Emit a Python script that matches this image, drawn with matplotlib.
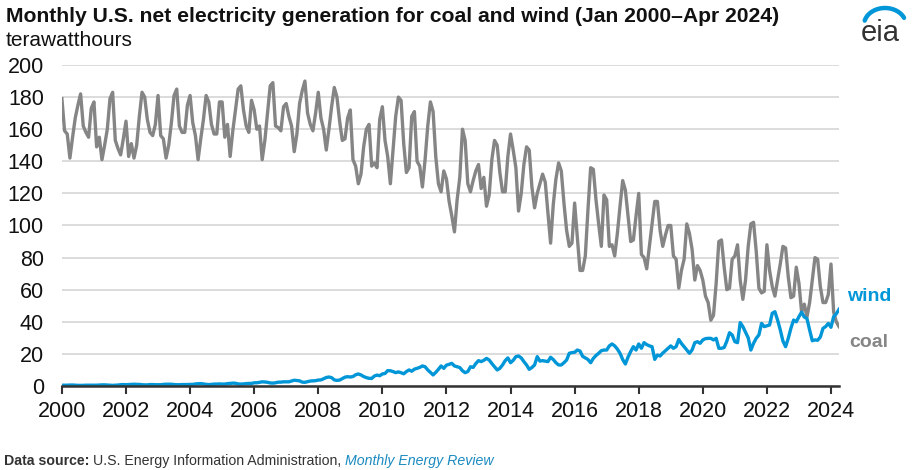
import numpy as np
import matplotlib
matplotlib.use("Agg")
import matplotlib.pyplot as plt

plt.rcParams['font.family'] = ['Liberation Sans', 'DejaVu Sans']

# monthly net generation, terawatthours, Jan 2000 - Apr 2024 (one row per year)
coal_twh = [
    179, 159, 157, 142, 155, 167, 175, 182, 162, 158, 155, 173,  # 2000
    177, 149, 155, 141, 150, 160, 179, 183, 153, 148, 144, 154,  # 2001
    165, 143, 151, 142, 150, 168, 183, 180, 166, 158, 156, 163,  # 2002
    181, 156, 154, 142, 150, 164, 181, 185, 162, 158, 158, 175,  # 2003
    181, 164, 156, 141, 154, 166, 181, 177, 163, 157, 157, 177,  # 2004
    177, 155, 163, 143, 159, 172, 185, 187, 172, 162, 158, 178,  # 2005
    172, 160, 162, 141, 153, 170, 187, 189, 162, 161, 159, 174,  # 2006
    176, 168, 162, 146, 157, 176, 184, 190, 170, 163, 159, 170,  # 2007
    183, 167, 160, 147, 160, 174, 186, 180, 165, 153, 154, 167,  # 2008
    172, 141, 137, 126, 132, 149, 160, 163, 137, 139, 136, 166,  # 2009
    174, 153, 143, 126, 147, 168, 180, 178, 151, 133, 136, 168,  # 2010
    171, 140, 137, 124, 141, 162, 177, 171, 143, 126, 121, 134,  # 2011
    129, 115, 106, 96, 116, 130, 160, 153, 126, 121, 128, 134,   # 2012
    138, 123, 130, 112, 119, 141, 153, 150, 133, 121, 121, 143,  # 2013
    157, 147, 136, 109, 120, 138, 149, 147, 124, 111, 120, 126,  # 2014
    132, 127, 108, 89, 113, 129, 139, 134, 114, 97, 87, 89,      # 2015
    114, 93, 72, 72, 81, 110, 136, 135, 116, 101, 87, 119,       # 2016
    116, 87, 88, 81, 95, 112, 128, 122, 106, 90, 91, 106,        # 2017
    120, 82, 80, 73, 87, 101, 115, 115, 97, 87, 94, 100,         # 2018
    100, 81, 79, 61, 72, 79, 101, 95, 85, 66, 75, 72,            # 2019
    66, 56, 52, 41, 44, 64, 90, 91, 74, 60, 61, 79,              # 2020
    81, 88, 66, 54, 66, 87, 101, 102, 84, 61, 58, 59,            # 2021
    88, 72, 62, 56, 66, 76, 87, 86, 68, 55, 56, 74,              # 2022
    64, 46, 51, 43, 52, 66, 80, 79, 62, 52, 52, 57,              # 2023
    76, 46, 40, 37,                                              # 2024
]

wind_twh = [
    0.5, 0.5, 0.5, 0.6, 0.6, 0.5, 0.4, 0.4, 0.4, 0.5, 0.5, 0.5,          # 2000
    0.5, 0.5, 0.6, 0.7, 0.7, 0.6, 0.5, 0.4, 0.5, 0.6, 0.8, 0.9,          # 2001
    0.8, 0.9, 1.0, 1.1, 1.0, 1.0, 0.8, 0.7, 0.7, 0.9, 0.9, 0.8,          # 2002
    0.8, 0.8, 1.0, 1.1, 1.1, 1.1, 0.9, 0.8, 0.8, 0.9, 0.9, 0.9,          # 2003
    1.0, 1.0, 1.3, 1.4, 1.5, 1.3, 1.0, 0.9, 1.0, 1.2, 1.2, 1.3,          # 2004
    1.2, 1.2, 1.5, 1.6, 1.8, 1.7, 1.3, 1.2, 1.3, 1.5, 1.6, 1.6,          # 2005
    2.0, 2.0, 2.3, 2.6, 2.5, 2.3, 1.9, 1.8, 2.0, 2.4, 2.4, 2.6,          # 2006
    2.6, 2.6, 3.1, 3.6, 3.4, 3.2, 2.4, 2.3, 2.7, 3.1, 3.2, 3.3,          # 2007
    3.7, 3.8, 4.5, 5.3, 5.6, 5.2, 3.8, 3.5, 3.7, 4.6, 5.5, 5.8,          # 2008
    5.6, 5.9, 7.0, 7.5, 6.9, 5.9, 5.2, 4.8, 4.7, 6.2, 6.8, 6.4,          # 2009
    7.5, 7.8, 9.6, 9.5, 9.0, 8.3, 8.8, 8.3, 7.6, 9.0, 10.0, 9.2,         # 2010
    10.5, 11.0, 11.6, 12.5, 12.0, 10.0, 8.5, 6.9, 8.5, 10.4, 12.5, 11.0, # 2011
    13.0, 13.5, 14.1, 12.5, 12.0, 11.5, 9.5, 8.3, 9.0, 12.0, 11.6, 14.0, # 2012
    15.8, 15.2, 16.0, 17.2, 16.2, 14.0, 12.0, 10.0, 11.0, 13.1, 15.8, 17.5,  # 2013
    14.5, 16.0, 18.3, 18.7, 17.5, 15.2, 13.1, 10.4, 11.5, 13.1, 18.3, 15.5,  # 2014
    15.8, 15.5, 15.2, 17.9, 16.5, 14.5, 13.1, 13.1, 14.5, 16.2, 20.4, 20.8,  # 2015
    21.0, 22.4, 21.8, 18.5, 17.5, 16.5, 14.5, 17.2, 19.0, 20.4, 22.0, 22.4,  # 2016
    22.4, 25.0, 26.2, 25.0, 23.0, 20.4, 16.5, 13.7, 18.0, 21.5, 24.5, 22.4,  # 2017
    26.2, 23.5, 27.0, 25.8, 25.0, 24.5, 16.6, 19.3, 18.7, 20.5, 22.0, 23.5,  # 2018
    25.0, 23.5, 24.5, 29.0, 26.5, 24.5, 22.4, 20.4, 22.5, 27.0, 27.6, 26.6,  # 2019
    28.7, 29.5, 29.7, 29.7, 28.7, 29.7, 23.5, 23.5, 24.0, 28.0, 33.2, 31.8,  # 2020
    27.6, 27.0, 39.5, 37.0, 33.5, 30.0, 22.4, 26.6, 29.7, 31.8, 39.0, 37.0,  # 2021
    37.5, 38.0, 45.3, 46.3, 41.1, 35.0, 28.0, 24.5, 29.7, 36.0, 41.1, 40.0,  # 2022
    43.2, 46.0, 43.0, 42.0, 34.9, 28.2, 28.7, 28.5, 30.5, 35.9, 37.0, 39.0,  # 2023
    36.6, 43.2, 45.0, 47.8,                                                   # 2024
]

start_year = 2000
year_ticks = list(range(2000, 2025, 2))
y_ticks = list(range(0, 201, 20))

COAL = "#858585"
WIND = "#0096d7"

months = np.arange(len(coal_twh))
x = start_year + months / 12.0

fig = plt.figure(figsize=(9.16, 4.70), dpi=100)
ax = fig.add_axes([61.9 / 916, 84 / 470, (839 - 61.9) / 916, 321 / 470])

ax.plot(x, coal_twh, color=COAL, lw=2.4, solid_joinstyle="round", zorder=3)
ax.plot(x, wind_twh, color=WIND, lw=2.4, solid_joinstyle="round", zorder=4)

ax.set_xlim(x[0], x[-1])
ax.set_ylim(0, 200)
ax.set_yticks(y_ticks)
ax.set_xticks(year_ticks)
ax.set_xticklabels([str(y) for y in year_ticks])
ax.grid(axis="y", color="#d9d9d9", lw=1.3)
ax.set_axisbelow(True)
for s in ["top", "right", "left"]:
    ax.spines[s].set_visible(False)
ax.spines["bottom"].set_color("#333333")
ax.spines["bottom"].set_linewidth(1.8)
ax.spines["bottom"].set_zorder(5)
ax.tick_params(axis="y", length=0, pad=13, labelsize=15.5, labelcolor="#111111")
ax.tick_params(axis="x", length=6, width=1.5, color="#333333", pad=5,
               labelsize=15.5, labelcolor="#111111")

# series labels at the right end
ax.text(2025.18, 55.5, "wind", color=WIND, fontsize=14, fontweight="bold",
        ha="center", va="center", clip_on=False)
ax.text(2025.18, 27.4, "coal", color=COAL, fontsize=14, fontweight="bold",
        ha="center", va="center", clip_on=False)

fig.text(6 / 916, 1 - 17 / 470,
         "Monthly U.S. net electricity generation for coal and wind (Jan 2000\u2013Apr 2024)",
         fontsize=15.2, fontweight="bold", ha="left", va="center", color="#111111")
fig.text(6 / 916, 1 - 40 / 470, "terawatthours", fontsize=15, ha="left",
         va="center", color="#111111")

# source line, pieces placed one after another
renderer = fig.canvas.get_renderer()
sx = 4 / 916
sy = 1 - 461 / 470
for txt, kw in [("Data source: ", dict(fontweight="bold", color="#333333")),
                ("U.S. Energy Information Administration, ", dict(color="#333333")),
                ("Monthly Energy Review", dict(style="italic", color="#1a8ac0"))]:
    t = fig.text(sx, sy, txt, fontsize=10.2, ha="left", va="center", **kw)
    bb = t.get_window_extent(renderer)
    sx += bb.width / fig.bbox.width

# eia logo: blue swoosh over the letters
th = np.linspace(np.radians(25), np.radians(165), 40)
fig.add_artist(plt.Line2D((885 + 21 * np.cos(th)) / 916,
                          1 - (25 - 17 * np.sin(th)) / 470,
                          color=WIND, lw=3.2, solid_capstyle="round"))
fig.text(880 / 916, 1 - 33 / 470, "eia", fontsize=21, color="#333333",
         ha="center", va="center")

fig.savefig("out.png", dpi=100, facecolor="white")
